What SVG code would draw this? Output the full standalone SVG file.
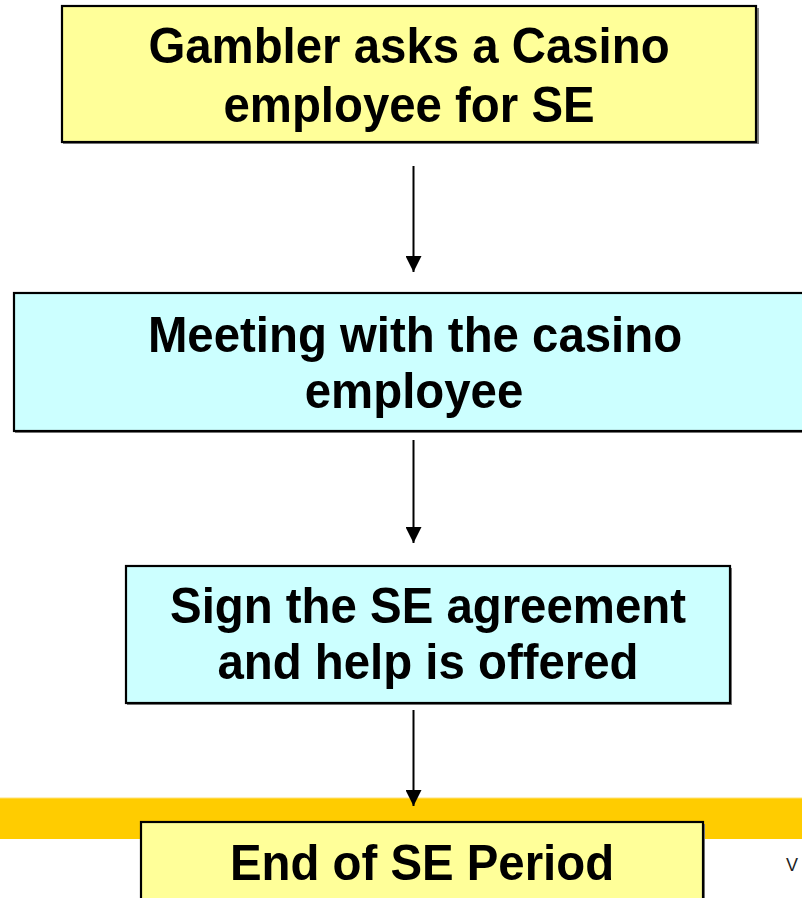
<svg xmlns="http://www.w3.org/2000/svg" width="802" height="898" viewBox="0 0 802 898">
  <defs>
    <marker id="arrowhead" viewBox="0 0 16 16" refX="16" refY="8" markerWidth="16" markerHeight="16" markerUnits="userSpaceOnUse" orient="auto">
      <path d="M0,0 L16,8 L0,16 Z" fill="#000"/>
    </marker>
  </defs>
  <style>
    .shadow { fill: #7f7f7f; }
    .box { stroke: #000; stroke-width: 2.2; }
    .yellow { fill: #ffff99; }
    .cyan { fill: #ccffff; }
    .label { font-family: "Liberation Sans", Arial, sans-serif; font-weight: bold; font-size: 46px; fill: #000; text-anchor: middle; }
    .conn { stroke: #000; stroke-width: 2; fill: none; }
  </style>

  <rect x="0" y="0" width="802" height="898" fill="#fff"/>

  <!-- slide band behind the last step -->
  <rect x="0" y="798" width="802" height="41" fill="#ffcc00"/>
  <rect x="0" y="797.5" width="802" height="1" fill="#ffe27a"/>

  <!-- labels are drawn at the baseline and stretched slightly upward -->
  <g id="node-ask">
    <rect class="shadow" x="63" y="8" width="696" height="136"/>
    <rect class="box yellow" x="62" y="6" width="694" height="136"/>
    <text class="label" transform="translate(409,63) scale(1.03,1.1)">Gambler asks a Casino</text>
    <text class="label" transform="translate(409,122) scale(1.03,1.1)">employee for SE</text>
  </g>

  <g id="node-meeting">
    <rect class="shadow" x="15" y="295" width="800" height="138"/>
    <rect class="box cyan" x="14" y="293" width="800" height="138"/>
    <text class="label" transform="translate(415,352) scale(1.03,1.1)">Meeting with the casino</text>
    <text class="label" transform="translate(414,408) scale(1.03,1.1)">employee</text>
  </g>

  <g id="node-sign">
    <rect class="shadow" x="127" y="568" width="605" height="137"/>
    <rect class="box cyan" x="126" y="566" width="604" height="137"/>
    <text class="label" transform="translate(428,623) scale(1.03,1.1)">Sign the SE agreement</text>
    <text class="label" transform="translate(428,679) scale(1.03,1.1)">and help is offered</text>
  </g>

  <g id="node-end">
    <rect class="shadow" x="142" y="824" width="563" height="90"/>
    <rect class="box yellow" x="141" y="822" width="562" height="90"/>
    <text class="label" transform="translate(422,880) scale(1.03,1.1)">End of SE Period</text>
  </g>

  <text x="786" y="871" font-family="Liberation Sans, Arial, sans-serif" font-size="18" fill="#222">V</text>

  <g id="connectors">
    <line class="conn" x1="413.5" y1="166" x2="413.5" y2="272" marker-end="url(#arrowhead)"/>
    <line class="conn" x1="413.5" y1="440" x2="413.5" y2="543" marker-end="url(#arrowhead)"/>
    <line class="conn" x1="413.5" y1="710" x2="413.5" y2="806" marker-end="url(#arrowhead)"/>
  </g>
</svg>
